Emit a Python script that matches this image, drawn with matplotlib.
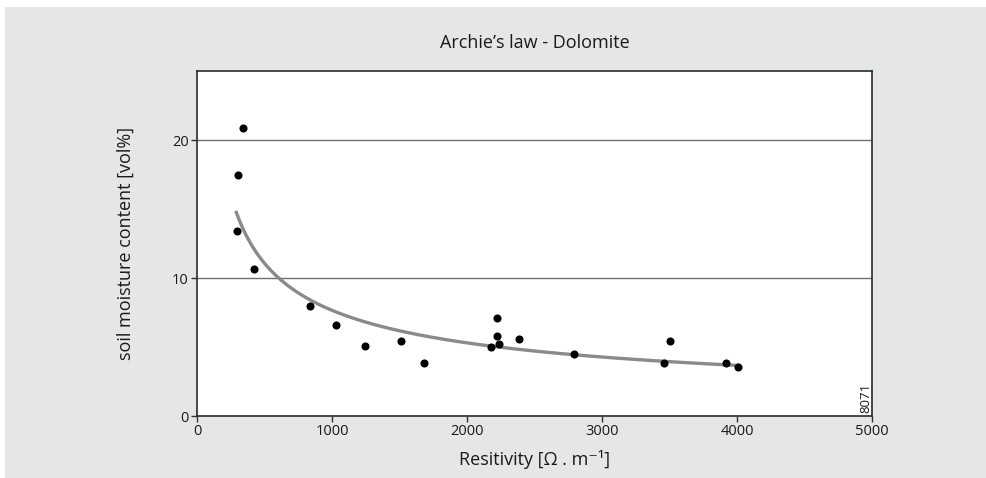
import numpy as np
import matplotlib
matplotlib.use("Agg")
import matplotlib.pyplot as plt
from matplotlib.patches import Rectangle

plt.rcParams['font.family'] = ['Open Sans', 'DejaVu Sans']

# Data
resistivity = [341, 304, 296, 422, 837, 1030, 1244, 1511, 1681, 2178,
               2222, 2222, 2236, 2385, 2790, 3459, 3504, 3919, 4011]
moisture = [20.9, 17.5, 13.4, 10.65, 8.0, 6.6, 5.07, 5.43, 3.86, 5.0,
            7.1, 5.8, 5.25, 5.55, 4.49, 3.84, 5.45, 3.84, 3.57]

# Archie's law fit: moisture = a * resistivity^(-b)
fit_a = 300.0
fit_b = 0.531
fit_range = [287, 4020]

title = "Archie\u2019s law - Dolomite"
xlabel = "Resitivity [\u03a9 . m\u207b\u00b9]"
ylabel = "soil moisture content [vol%]"
xticks = [0, 1000, 2000, 3000, 4000, 5000]
yticks = [0, 10, 20]
code = "8071"

W, H = 986, 478
fig = plt.figure(figsize=(W / 100, H / 100), dpi=100, facecolor='white')
bg = '#e5e6e8'
fig.patches.append(Rectangle((5 / W, 0), 1 - 5 / W, 1 - 7 / H, transform=fig.transFigure,
                             facecolor=bg, edgecolor='none', zorder=-10))

ax = fig.add_axes([197 / W, 1 - 416 / H, (872 - 197) / W, (416 - 71) / H])
ax.set_facecolor('white')

ax.set_xlim(0, 5000)
ax.set_ylim(0, 25)
ax.set_xticks(xticks)
ax.set_yticks(yticks)
ax.tick_params(direction='out', length=4, width=1, colors='#333333',
               labelsize=10.5, labelcolor='#1a1a1a', pad=2)

for y in yticks[1:]:
    ax.axhline(y, color='#6e6e6e', lw=1.0, zorder=1)

for s in ax.spines.values():
    s.set_color('#2a2a2a')
    s.set_linewidth(1.2)

xs = np.linspace(fit_range[0], fit_range[1], 300)
ax.plot(xs, fit_a * xs ** (-fit_b), color='#8a8a8a', lw=2.4, zorder=2, solid_capstyle='butt')

ax.scatter(resistivity, moisture, s=34, color='black', zorder=3, linewidths=0)

fig.text(534.5 / W, 1 - 43 / H, title, ha='center', va='center', fontsize=13, color='#1a1a1a')
ax.set_xlabel(xlabel, fontsize=13, color='#1a1a1a', labelpad=8)
ax.set_ylabel(ylabel, fontsize=13, color='#1a1a1a', labelpad=27)

ax.text(866 / W, 1 - 413 / H, code, transform=fig.transFigure, rotation=90,
        ha='center', va='bottom', fontsize=9.5, color='#1a1a1a')

fig.savefig('out.png', dpi=100, facecolor=fig.get_facecolor())
